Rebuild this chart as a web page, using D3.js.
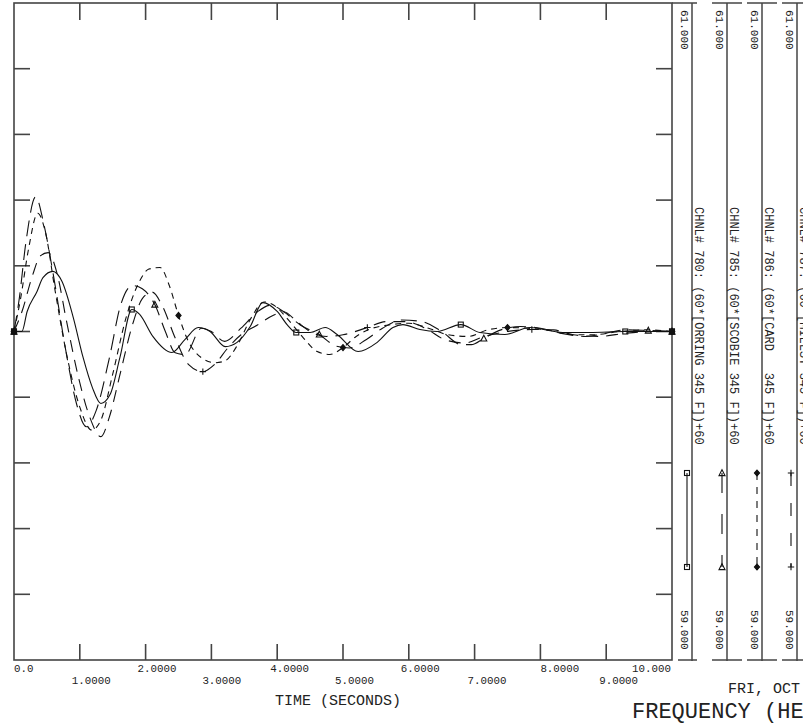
<!DOCTYPE html>
<html>
<head>
<meta charset="utf-8">
<script src="https://cdn.jsdelivr.net/npm/d3@7/dist/d3.min.js"></script>
<style>
html,body{margin:0;padding:0;background:#fff;overflow:hidden;}
text{font-family:"Liberation Mono","DejaVu Sans Mono",monospace;fill:#222;}
</style>
</head>
<body>
<svg id="chart" width="803" height="723"></svg>
<script>
// ---------------- DATA ----------------
const xTicks = [0,1,2,3,4,5,6,7,8,9,10];
const xTickLabels = ["0.0","1.0000","2.0000","3.0000","4.0000","5.0000","6.0000","7.0000","8.0000","9.0000","10.000"];
const yTicks = [59.2,59.4,59.6,59.8,60.0,60.2,60.4,60.6,60.8];
const channelLabels = [
  "CHNL# 780: (60*[ORRING 345 F])+60",
  "CHNL# 785: (60*[SCOBIE 345 F])+60",
  "CHNL# 786: (60*[CARD   345 F])+60",
  "CHNL# 787: (60*[MILLST 345 F])+60"
];
const axisMaxLabel = "61.000";
const axisMinLabel = "59.000";

// [time (s), frequency (Hz)]
const orring = [[0,60.0],[0.12,60.0],[0.2,60.061],[0.35,60.122],[0.44,60.164],[0.59,60.183],[0.73,60.152],[0.9,60.043],
  [1.05,59.921],[1.19,59.83],[1.32,59.781],[1.46,59.808],[1.61,59.921],[1.79,60.067],[1.91,60.052],[2.11,59.985],
  [2.4,59.936],[2.6,59.976],[2.8,60.012],[2.98,60.0],[3.21,59.954],[3.39,59.967],[3.59,60.015],[3.78,60.088],
  [4.0,60.061],[4.15,60.021],[4.29,59.997],[4.5,59.997],[4.73,60.012],[4.91,59.991],[5.23,59.939],[5.52,59.967],
  [5.76,60.012],[5.91,60.021],[6.17,60.006],[6.43,60.0],[6.79,60.021],[7.08,59.997],[7.46,59.991],[7.84,60.012],
  [8.34,59.997],[8.75,59.997],[9.29,60.0],[9.67,60.0],[10,60.0]];
const scobie = [[0,60.0],[0.08,60.1],[0.18,60.27],[0.33,60.41],[0.45,60.33],[0.6,60.17],[0.78,59.95],[0.95,59.78],
  [1.1,59.71],[1.25,59.76],[1.45,59.92],[1.62,60.08],[1.8,60.14],[1.95,60.13],[2.14,60.082],[2.3,60.0],[2.45,59.935],
  [2.6,59.93],[2.85,60.01],[3.0,60.0],[3.2,59.97],[3.45,60.01],[3.7,60.06],[3.9,60.08],[4.1,60.06],[4.35,60.02],
  [4.64,59.991],[4.9,59.955],[5.1,59.95],[5.35,59.975],[5.6,60.01],[5.9,60.035],[6.2,60.03],[6.5,60.0],[6.8,59.96],
  [6.95,59.96],[7.14,59.979],[7.4,60.005],[7.7,60.015],[8.0,60.01],[8.3,59.995],[8.7,59.985],[9.0,59.995],
  [9.3,60.005],[9.64,60.003],[10,60.0]];
const card = [[0,60.0],[0.1,60.1],[0.22,60.25],[0.36,60.36],[0.48,60.3],[0.62,60.13],[0.8,59.93],[1.0,59.77],
  [1.18,59.7],[1.32,59.73],[1.5,59.87],[1.7,60.04],[1.9,60.15],[2.05,60.19],[2.22,60.195],[2.36,60.14],[2.5,60.049],
  [2.65,59.97],[2.85,59.92],[3.05,59.905],[3.2,59.91],[3.4,59.96],[3.6,60.04],[3.8,60.09],[3.95,60.08],[4.15,60.04],
  [4.4,59.98],[4.6,59.94],[4.8,59.93],[5.0,59.951],[5.2,59.985],[5.45,60.01],[5.7,60.02],[6.0,60.025],[6.3,60.01],
  [6.6,59.99],[6.9,59.985],[7.2,60.005],[7.5,60.012],[7.8,60.01],[8.1,60.005],[8.5,59.99],[8.8,59.99],[9.2,60.0],
  [9.6,60.005],[10,60.0]];
const millst = [[0,60.0],[0.12,60.06],[0.28,60.17],[0.4,60.23],[0.52,60.24],[0.65,60.18],[0.8,60.03],[0.98,59.86],
  [1.15,59.74],[1.32,59.68],[1.45,59.74],[1.6,59.86],[1.8,60.02],[1.95,60.1],[2.1,60.12],[2.25,60.08],[2.45,59.98],
  [2.65,59.9],[2.87,59.878],[3.05,59.9],[3.25,59.95],[3.45,59.99],[3.7,60.02],[3.95,60.05],[4.1,60.06],[4.3,60.03],
  [4.5,60.0],[4.75,59.985],[5.0,59.99],[5.37,60.012],[5.65,60.03],[5.95,60.03],[6.25,60.01],[6.55,59.975],
  [6.85,59.965],[7.15,59.985],[7.5,60.0],[7.87,60.006],[8.2,60.005],[8.5,59.99],[8.9,59.985],[9.3,59.995],[9.7,60.0],[10,60.0]];

// times at which a symbol is drawn on each curve
const orringMarks = [0,1.79,4.29,6.79,9.29,10];
const scobieMarks = [0,2.14,4.64,7.14,9.64,10];
const cardMarks = [0,2.5,5.0,7.5,10];
const millstMarks = [0,2.87,5.37,7.87,10];

// ---------------- LAYOUT ----------------
const svg = d3.select("#chart");
const L = 14, R = 672, T = 3, B = 660;
const x = d3.scaleLinear().domain([0,10]).range([L,R]);
const y = d3.scaleLinear().domain([59,61]).range([B,T]);
const frameColor = "#444";

const series = [
  {data: orring, marks: orringMarks, sym: "square",  dash: null,   legendDash: null},
  {data: scobie, marks: scobieMarks, sym: "triangle",dash: "16,8", legendDash: "20,21"},
  {data: card,   marks: cardMarks,   sym: "diamond", dash: "6,5",  legendDash: "7,7"},
  {data: millst, marks: millstMarks, sym: "plus",    dash: "12,8", legendDash: "13,17"}
];

// frame
const g = svg.append("g");
g.append("rect").attr("x",L).attr("y",T).attr("width",R-L).attr("height",B-T)
  .attr("fill","none").attr("stroke",frameColor).attr("stroke-width",1.6);

// x ticks (top and bottom)
const inner = x.ticks(10).filter(d => d > 0 && d < 10);
g.selectAll(".xt-b").data(inner).enter().append("line")
  .attr("x1",d=>x(d)).attr("x2",d=>x(d)).attr("y1",B).attr("y2",B-16)
  .attr("stroke",frameColor).attr("stroke-width",1.6);
g.selectAll(".xt-t").data(inner).enter().append("line")
  .attr("x1",d=>x(d)).attr("x2",d=>x(d)).attr("y1",T).attr("y2",T+17)
  .attr("stroke",frameColor).attr("stroke-width",1.6);
// y ticks (left and right)
g.selectAll(".yt-l").data(yTicks).enter().append("line")
  .attr("x1",L).attr("x2",L+16).attr("y1",d=>y(d)).attr("y2",d=>y(d))
  .attr("stroke",frameColor).attr("stroke-width",1.6);
g.selectAll(".yt-r").data(yTicks).enter().append("line")
  .attr("x1",R-16).attr("x2",R).attr("y1",d=>y(d)).attr("y2",d=>y(d))
  .attr("stroke",frameColor).attr("stroke-width",1.6);

// x tick labels
const labelShift = [0,-8,-8,-9,-7,-8,-8,-7,0,-7,-40];
g.selectAll(".xl").data(xTicks).enter().append("text")
  .attr("x",(d,i)=>x(d)+labelShift[i])
  .attr("y",(d,i)=> i%2===0 ? 672 : 684)
  .attr("font-size","10.8px")
  .text((d,i)=>xTickLabels[i]);

g.append("text").attr("x",275).attr("y",705).attr("font-size","15px").text("TIME (SECONDS)");
g.append("text").attr("x",728).attr("y",693).attr("font-size","15px").text("FRI, OCT 13 1995  10:42");
g.append("text").attr("x",632).attr("y",718).attr("font-size","22px").text("FREQUENCY (HERTZ)");

// symbols
function drawSymbol(sel, type, cx, cy) {
  const s = sel.append("g").attr("transform",`translate(${cx},${cy})`);
  const st = {stroke:"#111","stroke-width":1.1,fill:"none"};
  let el;
  if (type==="square") el = s.append("rect").attr("x",-2.5).attr("y",-2.5).attr("width",5).attr("height",5);
  else if (type==="triangle") el = s.append("path").attr("d","M0,-3.2L3,2.6L-3,2.6Z");
  else if (type==="diamond") el = s.append("path").attr("d","M0,-3L2.6,0L0,3L-2.6,0Z").attr("fill","#111");
  else el = s.append("path").attr("d","M-3.2,0H3.2M0,-3.2V3.2");
  for (const k in st) if (!(k==="fill" && type==="diamond")) el.attr(k, st[k]);
}

// curves
const line = d3.line().x(d=>x(d[0])).y(d=>y(d[1])).curve(d3.curveMonotoneX);
const plot = svg.append("g");
series.forEach(s => {
  plot.append("path").datum(s.data).attr("d",line)
    .attr("fill","none").attr("stroke","#111").attr("stroke-width",1.1)
    .attr("stroke-dasharray",s.dash);
  const lookup = new Map(s.data.map(d=>[d[0],d[1]]));
  s.marks.forEach(t => drawSymbol(plot, s.sym, x(t), y(lookup.get(t))));
});
// filled blobs where all curves start / end together
[0,10].forEach(t => plot.append("rect").attr("x",x(t)-3).attr("y",y(60)-3)
  .attr("width",6).attr("height",6).attr("fill","#111"));

// legend panels
const leg = svg.append("g");
series.forEach((s,i) => {
  const vx = 692 + 35*i;
  leg.append("line").attr("x1",vx).attr("x2",vx).attr("y1",T).attr("y2",B+1)
    .attr("stroke",frameColor).attr("stroke-width",1.5);
  const hx1 = i===0 ? R : vx-15, hx2 = i===0 ? vx+5 : vx+15;
  [T, B].forEach(yy => leg.append("line").attr("x1", i===0 && yy===B ? vx-14 : hx1).attr("x2",hx2)
    .attr("y1",yy).attr("y2",yy).attr("stroke",frameColor).attr("stroke-width",1.5));
  leg.append("text").attr("transform",`translate(${vx-8},10) rotate(90)`)
    .attr("dominant-baseline","central").attr("font-size","11px").text(axisMaxLabel);
  leg.append("text").attr("transform",`translate(${vx+6},207) rotate(90)`)
    .attr("dominant-baseline","central").attr("font-size","12px").style("white-space","pre")
    .attr("xml:space","preserve").text(channelLabels[i]);
  leg.append("text").attr("transform",`translate(${vx-8},610) rotate(90)`)
    .attr("dominant-baseline","central").attr("font-size","11px").text(axisMinLabel);
  const lx = vx - 5 - (i===3 ? 1 : 0);
  leg.append("line").attr("x1",lx).attr("x2",lx).attr("y1",473).attr("y2",567)
    .attr("stroke","#111").attr("stroke-width",1.1).attr("stroke-dasharray",s.legendDash);
  drawSymbol(leg, s.sym, lx, 473);
  drawSymbol(leg, s.sym, lx, 567);
});
</script>
</body>
</html>
